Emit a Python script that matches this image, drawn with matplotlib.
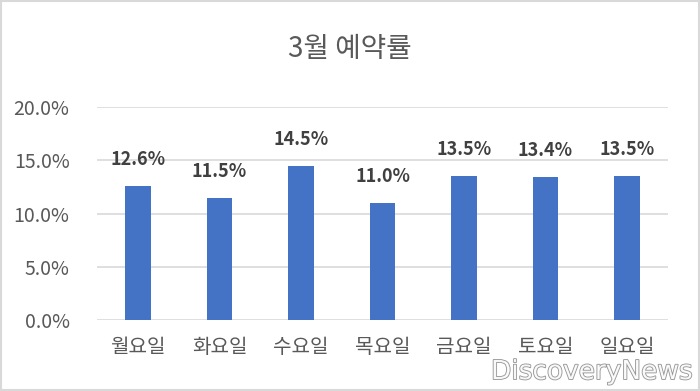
import matplotlib
matplotlib.use("Agg")
import matplotlib.pyplot as plt
from matplotlib.ticker import FuncFormatter
import matplotlib.patheffects as pe

plt.rcParams['font.family'] = ['Noto Sans CJK KR', 'DejaVu Sans']

categories = ['월요일', '화요일', '수요일', '목요일', '금요일', '토요일', '일요일']
values = [12.6, 11.5, 14.5, 11.0, 13.5, 13.4, 13.5]
yticks = [0, 5, 10, 15, 20]
title = '3월 예약률'

fig = plt.figure(figsize=(7, 3.91), dpi=100)
ax = fig.add_axes([0.139, 0.1816, 0.815, 0.5444])

x = range(len(categories))
ax.bar(x, values, width=0.317, color='#4472C4', zorder=3)
for xi, v in zip(x, values):
    ax.text(xi, v + 1.6, f'{v:.1f}%', ha='center', va='bottom', fontsize=13,
            fontweight='bold', color='#404040', zorder=4)

ax.set_ylim(0, 20)
ax.set_xlim(-0.5, len(categories) - 0.5)
ax.set_yticks(yticks)
ax.yaxis.set_major_formatter(FuncFormatter(lambda v, p: f'{v:.1f}%'))
ax.set_xticks(list(x))
ax.set_xticklabels(categories)
ax.tick_params(axis='y', length=0, labelsize=14, labelcolor='#595959', pad=20)
ax.tick_params(axis='x', length=0, labelsize=14.5, labelcolor='#595959', pad=12)
ax.grid(axis='y', color='#D9D9D9', linewidth=1.2, zorder=0)
for s in ax.spines.values():
    s.set_visible(False)

fig.text(0.5, 0.875, title, ha='center', va='center', fontsize=20, color='#595959',
         fontweight='light')

# border
fig.patches.append(plt.Rectangle((0.002, 0.003), 0.996, 0.994, transform=fig.transFigure,
                                 fill=False, edgecolor='#D9D9D9', linewidth=1.5))

# watermark
fig.text(0.99, 0.015, 'DiscoveryNews', ha='right', va='bottom', fontsize=19,
         color='white', alpha=0.9, family='DejaVu Sans Condensed',
         path_effects=[pe.withStroke(linewidth=1.2, foreground='#888888')])

fig.savefig('out.png', dpi=100)
